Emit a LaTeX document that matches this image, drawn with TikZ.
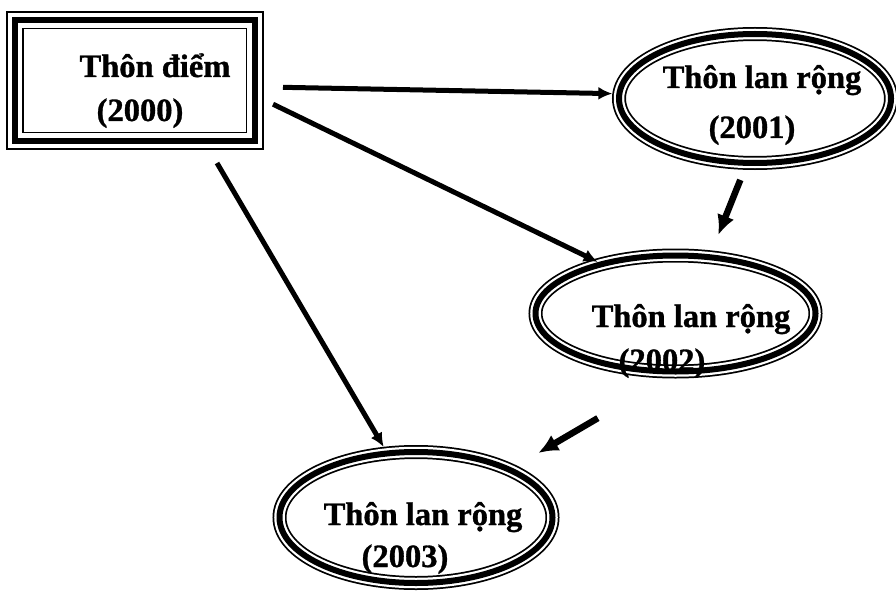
\documentclass[tikz,border=0pt]{standalone}
\usepackage{fontspec}
\setmainfont[BoldFeatures={FakeBold=1}]{Liberation Serif}
\usetikzlibrary{arrows.meta,shapes.geometric}

\begin{document}
\begin{tikzpicture}[x=1pt, y=-1pt, >={Latex[length=14pt,width=13pt]},
    lbl/.style={anchor=base, inner sep=0pt, font=\fontsize{32.5}{38}\selectfont\bfseries},
    framebox/.style={rectangle, draw, line width=6pt, inner sep=0pt, outer sep=0pt,
        preaction={draw, line width=18pt}, preaction={draw=white, line width=14.5pt}},
    ringnode/.style={ellipse, draw, line width=6pt, inner sep=0pt, outer sep=0pt,
        preaction={draw, line width=14pt}, preaction={draw=white, line width=10.5pt}},
    arr/.style={->, line width=5pt},
    shortarr/.style={-{Latex[length=20pt,width=18pt]}, line width=6.5pt}]
    \useasboundingbox (0,0) rectangle (896,591);

    % Start village
    \node[framebox, minimum width=239.5pt, minimum height=120pt] (diem) at (134.75,80.5) {};
    \node[lbl] (txt0) at (155,77) {Thôn điểm};
    \node[lbl] (yr0) at (140,121) {(2000)};

    % Spread villages
    \node[ringnode, minimum width=272pt, minimum height=129pt] (lan1) at (755,98.5) {};
    \node[lbl] (txt1) at (762,88) {Thôn lan rộng};
    \node[lbl] (yr1) at (752,138) {(2001)};

    \node[ringnode, minimum width=280pt, minimum height=116pt] (lan2) at (675.5,313.5) {};
    \node[lbl] (txt2) at (691,327) {Thôn lan rộng};
    \node[lbl] (yr2) at (662,371) {(2002)};

    \node[ringnode, minimum width=273pt, minimum height=131pt] (lan3) at (416,517.5) {};
    \node[lbl] (txt3) at (423,525) {Thôn lan rộng};
    \node[lbl] (yr3) at (405,567) {(2003)};

    % Long arrows
    \draw[arr, shorten <=28.5pt, shorten >=7pt] (diem.-3.4) -- (lan1.178);
    \draw[arr, shorten <=20.6pt, shorten >=5pt] (diem.-7.4) -- (lan2.146.3);
    \draw[arr, shorten <=26.1pt, shorten >=7.5pt] (diem.-41.4) -- (lan3.114.5);

    % Short arrows
    \draw[shortarr, shorten <=18.3pt, shorten >=23.8pt] (lan1.-97.2) -- (lan2.59.1);
    \draw[shortarr, shorten <=92.3pt, shorten >=33.2pt] (lan2.-88) -- (lan3.27.1);
\end{tikzpicture}
\end{document}
